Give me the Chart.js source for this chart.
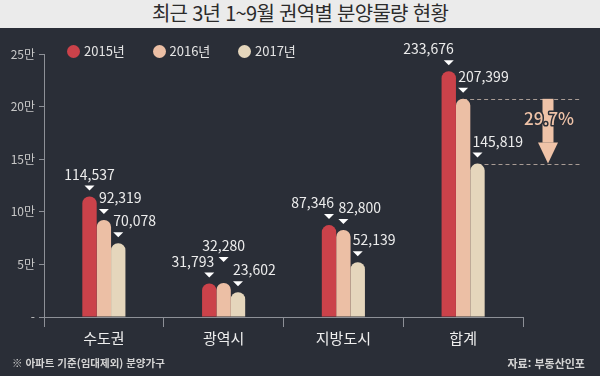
<!DOCTYPE html>
<html lang="ko">
<head>
<meta charset="UTF-8">
<title>최근 3년 1~9월 권역별 분양물량 현황</title>
<script src="https://cdn.jsdelivr.net/npm/chart.js"></script>
<style>
  body { margin: 0; background: #2a2e37; font-family: "Noto Sans CJK KR", sans-serif; }
  #wrap { position: relative; width: 600px; height: 376px; overflow: hidden; }
  #chart { position: absolute; left: 0; top: 0; }
  #title { position: absolute; left: 0; top: 0; width: 600px; height: 28px; background: #ebebeb; color: #2b2b2b;
           font-size: 20px; line-height: 26px; text-align: center; letter-spacing: -0.7px; }
  .leg { position: absolute; top: 43px; height: 16px; font-size: 13px; line-height: 16px; color: #e4e4e4; white-space: nowrap; }
  .leg i { display: inline-block; width: 13px; height: 13px; border-radius: 50%; vertical-align: -2px; margin-right: 4px; }
  .note { position: absolute; top: 355px; font-size: 10.5px; line-height: 16px; color: #d4d4d4; font-weight: bold; }
</style>
</head>
<body>
<div id="wrap">
  <canvas id="chart" width="600" height="376"></canvas>
  <div id="title">최근 3년 1~9월 권역별 분양물량 현황</div>
  <div class="note" style="left:12px">※ 아파트 기준(임대제외) 분양가구</div>
  <div class="note" style="right:15px;font-size:11px">자료: 부동산인포</div>
</div>
<script>
  // 분양물량 (가구)
  const categories = ['수도권', '광역시', '지방도시', '합계'];
  const years = ['2015년', '2016년', '2017년'];
  const supply2015 = [114537, 31793, 87346, 233676];
  const supply2016 = [92319, 32280, 82800, 207399];
  const supply2017 = [70078, 23602, 52139, 145819];
  const yTickLabels = ['-', '5만', '10만', '15만', '20만', '25만'];

  const colors = ['#cb424a', '#ecbfa5', '#e5d6bc'];
  // where each value label sits next to its bar
  const labelAlign = [
    ['center', 'right', 'right', 'right'],
    ['left', 'center', 'left', 'left'],
    ['left', 'left', 'left', 'left']
  ];
  const labelLift = [
    [0, 0, 0, 0],
    [0, 15, 0, 0],
    [0, 0, 0, 0]
  ];

  // legend
  const wrap = document.getElementById('wrap');
  years.forEach((y, i) => {
    const d = document.createElement('div');
    d.className = 'leg';
    d.style.left = (67 + i * 85.5) + 'px';
    d.innerHTML = '<i style="background:' + colors[i] + '"></i>' + y;
    wrap.appendChild(d);
  });

  const valueLabels = {
    id: 'valueLabels',
    afterDatasetsDraw(chart) {
      const ctx = chart.ctx;
      ctx.save();
      ctx.font = '14px "Noto Sans CJK KR"';
      ctx.textBaseline = 'alphabetic';
      chart.data.datasets.forEach((ds, di) => {
        chart.getDatasetMeta(di).data.forEach((bar, i) => {
          const x = bar.x, y = bar.y - labelLift[di][i];
          ctx.fillStyle = '#ffffff';
          ctx.beginPath();
          ctx.moveTo(x - 5, y - 11);
          ctx.lineTo(x + 5, y - 11);
          ctx.lineTo(x, y - 6);
          ctx.closePath();
          ctx.fill();
          const a = labelAlign[di][i];
          ctx.textAlign = a;
          const tx = a === 'left' ? x - 5 : a === 'right' ? x + 5 : x;
          ctx.fillStyle = '#ececec';
          ctx.fillText(ds.data[i].toLocaleString('en-US'), tx, y - 17);
        });
      });
      ctx.restore();
    }
  };

  const dropMarker = {
    id: 'dropMarker',
    beforeDatasetsDraw(chart) {
      const {ctx, chartArea, scales: {y}} = chart;
      const last = categories.length - 1;
      const yHi = Math.round(y.getPixelForValue(supply2016[last])) + 0.5;
      const yLo = Math.round(y.getPixelForValue(supply2017[last])) + 0.5;
      const xEnd = chartArea.right + 59;
      ctx.save();
      ctx.strokeStyle = '#a99c95';
      ctx.lineWidth = 1;
      ctx.setLineDash([4, 3]);
      ctx.beginPath();
      ctx.moveTo(chart.getDatasetMeta(1).data[last].x, yHi);
      ctx.lineTo(xEnd, yHi);
      ctx.moveTo(chart.getDatasetMeta(2).data[last].x, yLo);
      ctx.lineTo(xEnd, yLo);
      ctx.stroke();
      ctx.restore();
    },
    afterDraw(chart) {
      const {ctx, chartArea, scales: {y}} = chart;
      const last = categories.length - 1;
      const hi = supply2016[last], lo = supply2017[last];
      const yHi = y.getPixelForValue(hi), yLo = y.getPixelForValue(lo);
      const cx = chartArea.right + 25;
      ctx.save();
      ctx.fillStyle = '#efc3a8';
      ctx.fillRect(cx - 5.5, yHi, 11, yLo - 21 - yHi);
      ctx.beginPath();
      ctx.moveTo(cx - 10, yLo - 21);
      ctx.lineTo(cx + 10, yLo - 21);
      ctx.lineTo(cx, yLo);
      ctx.closePath();
      ctx.fill();
      const pct = ((hi - lo) / hi * 100).toFixed(1) + '%';
      ctx.font = '500 17px "Noto Sans CJK KR"';
      ctx.textAlign = 'center';
      ctx.textBaseline = 'middle';
      ctx.lineJoin = 'round';
      ctx.lineWidth = 3;
      ctx.strokeStyle = '#2a2e37';
      ctx.strokeText(pct, cx + 1, yHi + 20);
      ctx.fillStyle = '#efc3a8';
      ctx.fillText(pct, cx + 1, yHi + 20);
      ctx.restore();
    }
  };

  Chart.defaults.font.family = '"Noto Sans CJK KR", sans-serif';

  new Chart(document.getElementById('chart'), {
    type: 'bar',
    data: {
      labels: categories,
      datasets: [
        { label: years[0], data: supply2015, backgroundColor: colors[0] },
        { label: years[1], data: supply2016, backgroundColor: colors[1] },
        { label: years[2], data: supply2017, backgroundColor: colors[2] }
      ]
    },
    options: {
      responsive: false,
      animation: false,
      layout: { padding: { top: 54, right: 77, left: 0, bottom: 0 } },
      datasets: {
        bar: { categoryPercentage: 0.36, barPercentage: 1.0, borderRadius: 7, borderSkipped: 'start' }
      },
      plugins: {
        legend: { display: false },
        tooltip: { enabled: false }
      },
      scales: {
        x: {
          grid: { display: true, drawOnChartArea: false, offset: true, tickLength: 10, color: '#8d9097' },
          border: { color: '#8d9097' },
          ticks: { color: '#eeeeee', font: { size: 15 }, padding: 2 },
          afterFit(scale) { scale.height = 59; }
        },
        y: {
          min: 0,
          max: 250000,
          ticks: {
            stepSize: 50000,
            color: '#c8c8c8',
            font: { size: 12 },
            padding: 4,
            callback: (v, i) => yTickLabels[i]
          },
          grid: { drawOnChartArea: false, tickLength: 5, color: '#8d9097' },
          border: { color: '#8d9097' },
          afterFit(scale) { scale.width = 44; }
        }
      }
    },
    plugins: [dropMarker, valueLabels]
  });
</script>
</body>
</html>
